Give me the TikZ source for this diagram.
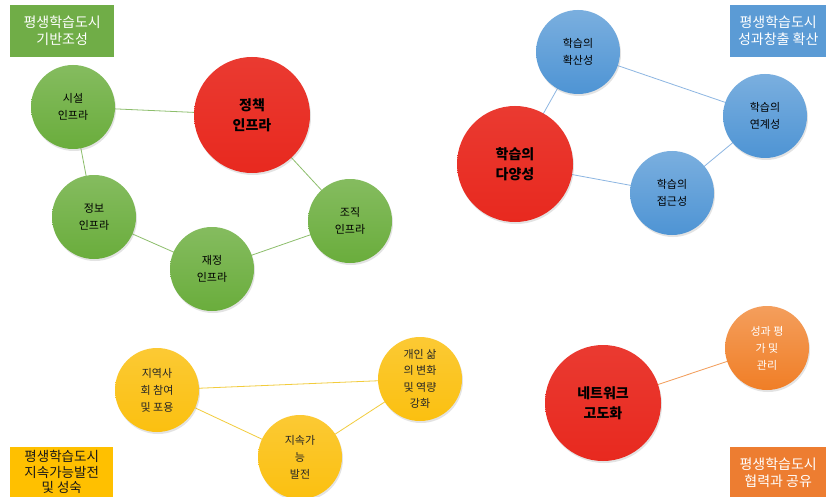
\documentclass[tikz,border=0pt]{standalone}
\usepackage{fontspec}
\setmainfont{Noto Sans CJK KR}
\usetikzlibrary{shadows}
\definecolor{cgreen}{HTML}{6AAD3C}
\definecolor{cred}{HTML}{E8291F}
\definecolor{cblue}{HTML}{4E94D4}
\definecolor{cyellow}{HTML}{FBC010}
\definecolor{corange}{HTML}{F07E26}
\definecolor{bgreen}{HTML}{70AD47}
\definecolor{bblue}{HTML}{5B9BD5}
\definecolor{byellow}{HTML}{FFC000}
\definecolor{borange}{HTML}{ED7D31}
\definecolor{lgreen}{HTML}{8DBE6C}
\definecolor{lblue}{HTML}{8DB6E2}
\definecolor{lyellow}{HTML}{F2CC3C}
\definecolor{lorange}{HTML}{F29A55}
\begin{document}
\begin{tikzpicture}[x=1pt,y=-1pt,
  bub/.style={circle, minimum size=84pt, inner sep=0pt, align=center,
    font=\fontsize{11}{17}\selectfont,
    drop shadow={shadow xshift=1pt,shadow yshift=-2pt,opacity=0.22}},
  big/.style={bub, minimum size=116pt, font=\fontsize{14}{20}\selectfont\bfseries,
    top color=cred!92!white, bottom color=cred},
  gbub/.style={bub, top color=cgreen!82!white, bottom color=cgreen},
  bbub/.style={bub, top color=cblue!75!white, bottom color=cblue},
  ybub/.style={bub, top color=cyellow!85!white, bottom color=cyellow, text=black!85},
  obub/.style={bub, top color=corange!75!white, bottom color=corange, text=white},
  lbox/.style={anchor=north west, inner sep=0pt, align=center, text=white,
    font=\fontsize{14}{17}\selectfont},
  gl/.style={draw=lgreen, line width=0.8pt},
  bl/.style={draw=lblue, line width=0.8pt},
  yl/.style={draw=lyellow, line width=0.8pt},
  ol/.style={draw=lorange, line width=0.8pt}]
\clip (0,0) rectangle (826,497);
\fill[white] (0,0) rectangle (826,497);
% label boxes
\node[lbox, fill=bgreen, minimum width=104pt, minimum height=52pt] (lg) at (10,5) {평생학습도시\\기반조성};
\node[lbox, fill=bblue, minimum width=96pt, minimum height=52pt] (lb) at (730,5) {평생학습도시\\성과창출 확산};
\node[lbox, fill=byellow, text=black!90, minimum width=103pt, minimum height=50pt, font=\fontsize{13.5}{15.5}\selectfont] (ly) at (10,447) {평생학습도시\\지속가능발전\\및 성숙};
\node[lbox, fill=borange, minimum width=96pt, minimum height=52pt] (lo) at (730,447) {평생학습도시\\협력과 공유};
% coordinates of bubbles
\coordinate (p1) at (73,107);
\coordinate (p2) at (252,115);
\coordinate (p3) at (94,217);
\coordinate (p4) at (212,269);
\coordinate (p5) at (350,221);
% connectors first
\path[gl] (p1) -- (p2);
\path[gl] (p1) -- (p3);
\path[gl] (p3) -- (p4);
\path[gl] (p4) -- (p5);
\path[gl] (p5) -- (p2);
\coordinate (q1) at (578,52);
\coordinate (q2) at (765,116);
\coordinate (q3) at (515,164);
\coordinate (q4) at (672,193);
\path[bl] (q1) -- (q3);
\path[bl] (q1) -- (q2);
\path[bl] (q2) -- (q4);
\path[bl] (q4) -- (q3);
\coordinate (r1) at (157,390);
\coordinate (r2) at (420,379);
\coordinate (r3) at (300,457);
\path[yl] (r1) -- (r2);
\path[yl] (r1) -- (r3);
\path[yl] (r3) -- (r2);
\coordinate (s1) at (603,403);
\coordinate (s2) at (767,348);
\path[ol] (s1) -- (s2);
% bubbles
\node[gbub] (siseol) at (p1) {시설\\인프라};
\node[big] (jeongchaek) at (p2) {정책\\인프라};
\node[gbub] (jeongbo) at (p3) {정보\\인프라};
\node[gbub] (jaejeong) at (p4) {재정\\인프라};
\node[gbub] (jojik) at (p5) {조직\\인프라};
\node[bbub] (hwaksan) at (q1) {학습의\\확산성};
\node[bbub] (yeongye) at (q2) {학습의\\연계성};
\node[big] (dayang) at (q3) {학습의\\다양성};
\node[bbub] (jeopgeun) at (q4) {학습의\\접근성};
\node[ybub] (jiyeok) at (r1) {지역사\\회 참여\\및 포용};
\node[ybub, font=\fontsize{11}{16.5}\selectfont] (gaein) at (r2) {개인 삶\\의 변화\\및 역량\\강화};
\node[ybub] (jisok) at (r3) {지속가\\능\\발전};
\node[big] (network) at (s1) {네트워크\\고도화};
\node[obub] (seonggwa) at (s2) {성과 평\\가 및\\관리};
\end{tikzpicture}
\end{document}
